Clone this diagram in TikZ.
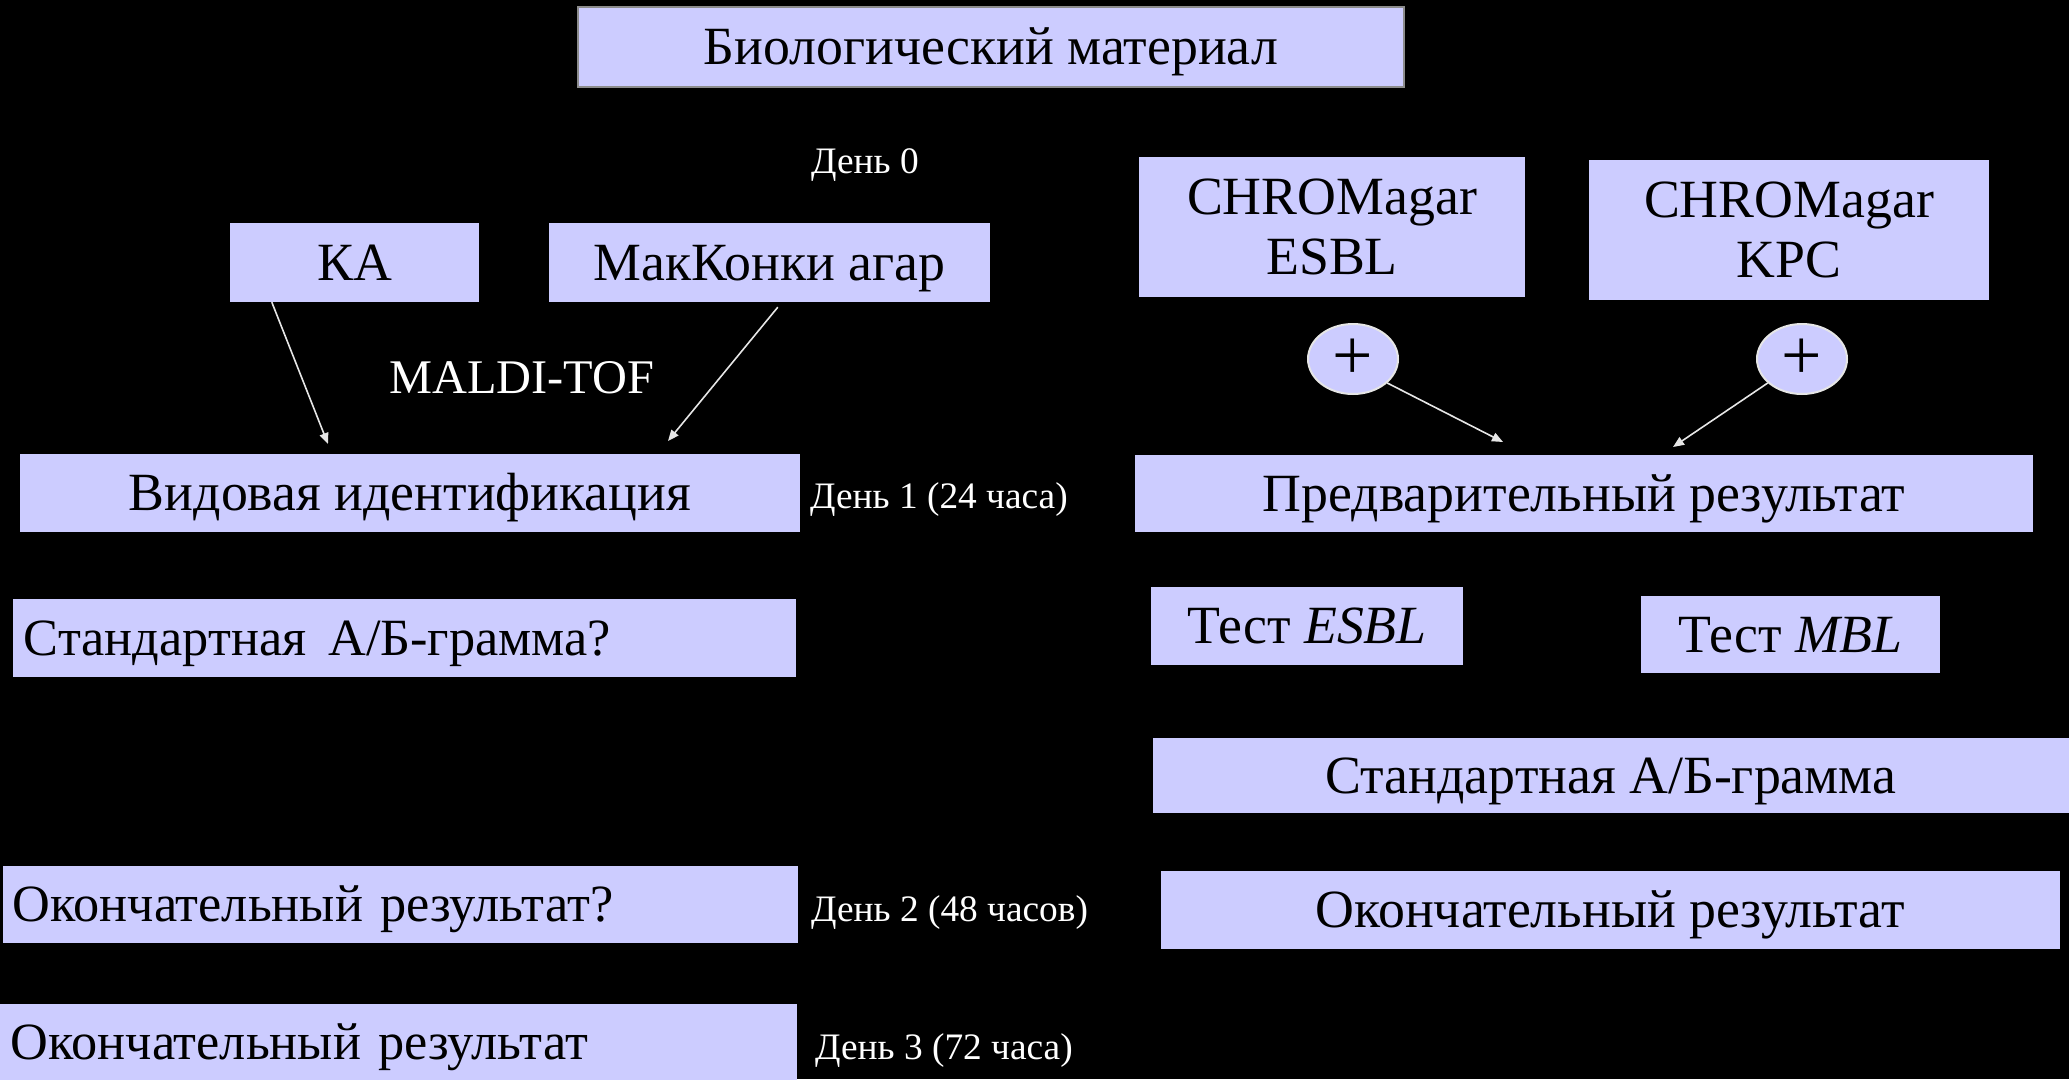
\documentclass[tikz,border=0pt]{standalone}
\usepackage{fontspec}
\setmainfont{Liberation Serif}
\usetikzlibrary{shapes.geometric,calc,arrows.meta}
\definecolor{boxfill}{HTML}{CCCCFF}
\definecolor{arrgray}{HTML}{E6E6E6}
\definecolor{bordergray}{HTML}{8C8C8C}
\begin{document}
\begin{tikzpicture}[x=1bp,y=-1bp,
  boxbase/.style={fill=boxfill, inner sep=0pt, anchor=center, font=\fontsize{54}{60}\selectfont},
  bx/.style={boxbase, text height=35.5bp, text depth=0pt},
  bxtwo/.style={boxbase, align=center},
  bxleft/.style={bx, align=left, inner xsep=11bp, font=\fontsize{52.5}{60}\selectfont, text height=34.5bp},
  lbl/.style={text=white, font=\fontsize{37.5}{40}\selectfont, inner sep=0pt, anchor=west, text height=25bp, text depth=0pt},
  plusc/.style={ellipse, fill=boxfill, draw=arrgray, line width=2bp, minimum width=90bp, minimum height=70bp, inner sep=0pt, font=\fontsize{72}{72}\selectfont},
  arr/.style={draw=arrgray, line width=1.6bp, -{Triangle[length=11bp,width=9bp]}},
]
\fill[black] (0,0) rectangle (2069,1079);
\useasboundingbox (0,0) rectangle (2069,1079);

% top
\node[bx, draw=bordergray, line width=1.5bp, minimum width=826bp, minimum height=80bp] (bio) at (991,47) {Биологический материал};
\node[lbl] (d0) at (811,161) {День 0};

% left column
\node[bx, minimum width=249bp, minimum height=79bp] (ka) at (354.5,262.5) {КА};
\node[bx, minimum width=441bp, minimum height=79bp] (mak) at (769.5,262.5) {МакКонки агар};
\node[lbl, font=\fontsize{48.5}{52}\selectfont, text height=32bp] (maldi) at (389,377) {MALDI-TOF};
\node[bx, minimum width=780bp, minimum height=78bp] (vid) at (410,493) {Видовая идентификация};
\node[lbl] (d1) at (810,496) {День 1 (24 часа)};
\node[bxleft, text width=761bp, minimum height=78bp] (stq) at (404.5,638) {Стандартная\hspace{0.42em}А/Б-грамма?};
\node[bxleft, inner xsep=10bp, text width=775bp, minimum height=77bp] (okq) at (400.5,904.5) {Окончательный результат?};
\node[lbl] (d2) at (811,909) {День 2 (48 часов)};
\node[bxleft, text width=775bp, minimum height=76bp] (ok3) at (398.5,1042) {Окончательный результат};
\node[lbl] (d3) at (815,1047) {День 3 (72 часа)};

% right column
\node[bxtwo, minimum width=386bp, minimum height=140bp] (esbl) at (1332,227) {CHROMagar\\ESBL};
\node[bxtwo, minimum width=400bp, minimum height=140bp] (kpc) at (1789,230) {CHROMagar\\KPC};
\node[plusc] (c1) at (1353,359) {+};
\node[plusc] (c2) at (1802,359) {+};
\node[bx, minimum width=898bp, minimum height=77bp] (pred) at (1584,493.5) {Предварительный результат};
\node[bx, minimum width=312bp, minimum height=78bp] (tesbl) at (1307,626) {Тест \textit{ESBL}};
\node[bx, minimum width=299bp, minimum height=77bp] (tmbl) at (1790.5,634.5) {Тест \textit{MBL}};
\node[bx, minimum width=916bp, minimum height=75bp] (st) at (1611,775.5) {Стандартная А/Б-грамма};
\node[bx, minimum width=899bp, minimum height=78bp] (okr) at (1610.5,910) {Окончательный результат};

% arrow ends
\coordinate (kaend) at (328,444);
\coordinate (makend) at (668,441);
\coordinate (c1end) at (1503,442);
\coordinate (c2end) at (1673,447);

\draw[arr] ($(ka.south west)+(42,0)$) -- (kaend);
\draw[arr] ($(mak.south west)+(229,5)$) -- (makend);
\draw[arr] (c1.-35) -- (c1end);
\draw[arr] (c2.215) -- (c2end);
\end{tikzpicture}
\end{document}
